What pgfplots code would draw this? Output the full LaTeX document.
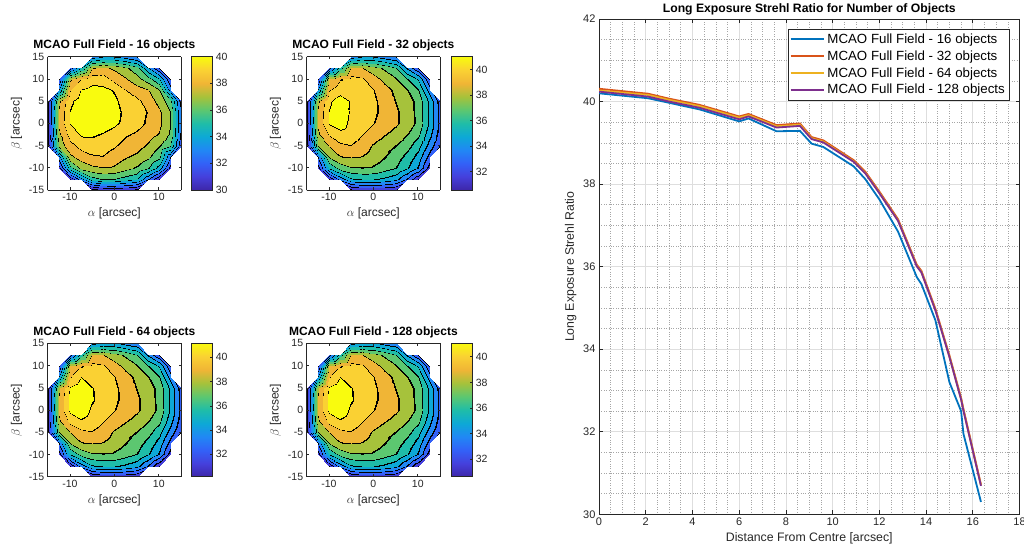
\documentclass[border=0pt]{standalone}
\usepackage{fontspec}
\setmainfont{Liberation Sans}
\usepackage{pgfplots}
\usepackage{pgfplotstable}
\pgfplotsset{compat=1.18}

\definecolor{axc}{rgb}{0.15,0.15,0.15}
\definecolor{mblue}{rgb}{0,0.447,0.741}
\definecolor{morange}{rgb}{0.850,0.325,0.098}
\definecolor{myellow}{rgb}{0.929,0.694,0.125}
\definecolor{mpurple}{rgb}{0.494,0.184,0.556}

% continuous map for the colour bars
\pgfplotsset{colormap={parula}{rgb=(0.242,0.150,0.660) rgb=(0.270,0.250,0.860) rgb=(0.200,0.380,0.970)
  rgb=(0.130,0.530,0.960) rgb=(0.050,0.660,0.840) rgb=(0.120,0.740,0.660) rgb=(0.360,0.780,0.440)
  rgb=(0.650,0.760,0.230) rgb=(0.940,0.710,0.210) rgb=(0.980,0.820,0.200) rgb=(0.976,0.983,0.054)}}
% banded map with thin black bands at each contour level
\pgfplotsset{colormap={bands}{
  rgb(30pt)=(0.242,0.150,0.660) rgb(30.7pt)=(0,0,0)
  rgb(31pt)=(0.270,0.250,0.860) rgb(31.73pt)=(0,0,0)
  rgb(32pt)=(0.200,0.380,0.970) rgb(32.75pt)=(0,0,0)
  rgb(33pt)=(0.130,0.530,0.960) rgb(33.78pt)=(0,0,0)
  rgb(34pt)=(0.050,0.660,0.840) rgb(34.82pt)=(0,0,0)
  rgb(35pt)=(0.120,0.740,0.660) rgb(35.86pt)=(0,0,0)
  rgb(36pt)=(0.360,0.780,0.440) rgb(36.89pt)=(0,0,0)
  rgb(37pt)=(0.650,0.760,0.230) rgb(37.91pt)=(0,0,0)
  rgb(38pt)=(0.940,0.710,0.210) rgb(38.93pt)=(0,0,0)
  rgb(39pt)=(0.980,0.820,0.200) rgb(39.93pt)=(0,0,0)
  rgb(40pt)=(0.976,0.983,0.054) rgb(41pt)=(0.976,0.983,0.054)}}

\pgfplotstableread[row sep=\\]{
x y z\\
-15 15 nan\\ -12.5 15 nan\\ -10 15 nan\\ -7.5 12.5 35.0\\ -5 15 33.5\\ -2.5 15 34.0\\ 0 15 34.0\\ 2.5 15 33.6\\ 5 15 33.0\\ 7.5 12.5 34.0\\ 10 15 nan\\ 12.5 15 nan\\ 15 15 nan\\
-15 12.5 nan\\ -12.5 10 32.0\\ -10 12.5 32.5\\ -7.5 12.5 35.0\\ -5 12.5 37.9\\ -2.5 12.5 38.2\\ 0 12.5 37.8\\ 2.5 12.5 37.2\\ 5 12.5 36.3\\ 7.5 12.5 34.0\\ 10 12.5 32.0\\ 12.5 10 32.0\\ 15 12.5 nan\\
-15 10 nan\\ -12.5 10 32.0\\ -10 10 37.8\\ -7.5 10 39.0\\ -5 10 39.6\\ -2.5 10 39.5\\ 0 10 38.6\\ 2.5 10 38.1\\ 5 10 37.3\\ 7.5 10 36.4\\ 10 10 35.0\\ 12.5 10 32.0\\ 15 10 nan\\
-15 5 31.0\\ -12.5 7.5 34.0\\ -10 7.5 38.9\\ -7.5 7.5 40.0\\ -5 7.5 40.3\\ -2.5 7.5 40.2\\ 0 7.5 39.9\\ 2.5 7.5 39.0\\ 5 7.5 38.4\\ 7.5 7.5 38.0\\ 10 7.5 37.0\\ 12.5 7.5 33.5\\ 15 5 32.5\\
-15 5 31.0\\ -12.5 5 37.8\\ -10 5 39.8\\ -7.5 5 40.4\\ -5 5 40.6\\ -2.5 5 40.5\\ 0 5 40.15\\ 2.5 5 39.6\\ 5 5 39.2\\ 7.5 5 38.5\\ 10 5 37.6\\ 12.5 5 36.3\\ 15 5 32.5\\
-15 2.5 30.8\\ -12.5 2.5 38.1\\ -10 2.5 40.0\\ -7.5 2.5 40.5\\ -5 2.5 40.7\\ -2.5 2.5 40.6\\ 0 2.5 40.3\\ 2.5 2.5 39.75\\ 5 2.5 39.35\\ 7.5 2.5 38.9\\ 10 2.5 38.15\\ 12.5 2.5 37.0\\ 15 2.5 32.8\\
-15 0 30.8\\ -12.5 0 38.2\\ -10 0 40.0\\ -7.5 0 40.5\\ -5 0 40.6\\ -2.5 0 40.45\\ 0 0 40.15\\ 2.5 0 39.7\\ 5 0 39.3\\ 7.5 0 38.8\\ 10 0 38.2\\ 12.5 0 37.0\\ 15 0 32.8\\
-15 -2.5 30.8\\ -12.5 -2.5 37.8\\ -10 -2.5 39.4\\ -7.5 -2.5 40.1\\ -5 -2.5 40.1\\ -2.5 -2.5 39.9\\ 0 -2.5 39.6\\ 2.5 -2.5 39.1\\ 5 -2.5 38.8\\ 7.5 -2.5 38.4\\ 10 -2.5 37.9\\ 12.5 -2.5 36.8\\ 15 -2.5 32.6\\
-15 -5 31.0\\ -12.5 -5 37.3\\ -10 -5 38.6\\ -7.5 -5 39.3\\ -5 -5 39.5\\ -2.5 -5 39.4\\ 0 -5 39.05\\ 2.5 -5 38.6\\ 5 -5 38.3\\ 7.5 -5 37.8\\ 10 -5 37.0\\ 12.5 -5 36.0\\ 15 -5 32.0\\
-15 -5 31.0\\ -12.5 -7.5 33.5\\ -10 -7.5 37.7\\ -7.5 -7.5 38.4\\ -5 -7.5 38.8\\ -2.5 -7.5 38.9\\ 0 -7.5 38.5\\ 2.5 -7.5 38.05\\ 5 -7.5 37.7\\ 7.5 -7.5 37.1\\ 10 -7.5 36.2\\ 12.5 -7.5 33.0\\ 15 -5 32.0\\
-15 -10 nan\\ -12.5 -10 31.5\\ -10 -10 35.5\\ -7.5 -10 37.2\\ -5 -10 37.7\\ -2.5 -10 37.9\\ 0 -10 37.8\\ 2.5 -10 37.3\\ 5 -10 36.8\\ 7.5 -10 36.0\\ 10 -10 34.5\\ 12.5 -10 31.5\\ 15 -10 nan\\
-15 -12.5 nan\\ -12.5 -10 31.5\\ -10 -12.5 31.0\\ -7.5 -12.5 33.5\\ -5 -12.5 35.5\\ -2.5 -12.5 36.0\\ 0 -12.5 35.9\\ 2.5 -12.5 35.5\\ 5 -12.5 35.0\\ 7.5 -12.5 33.0\\ 10 -12.5 31.0\\ 12.5 -10 31.5\\ 15 -12.5 nan\\
-15 -15 nan\\ -12.5 -15 nan\\ -10 -15 nan\\ -7.5 -12.5 33.5\\ -5 -15 30.3\\ -2.5 -15 30.8\\ 0 -15 31.0\\ 2.5 -15 30.8\\ 5 -15 30.5\\ 7.5 -12.5 33.0\\ 10 -15 nan\\ 12.5 -15 nan\\ 15 -15 nan\\
}\tsixteen

\pgfplotstableread[row sep=\\]{
x y z\\
-15 15 nan\\ -12.5 15 nan\\ -10 15 nan\\ -7.5 12.5 35.5\\ -5 15 33.5\\ -2.5 15 34.0\\ 0 15 34.0\\ 2.5 15 33.5\\ 5 15 33.0\\ 7.5 12.5 33.8\\ 10 15 nan\\ 12.5 15 nan\\ 15 15 nan\\
-15 12.5 nan\\ -12.5 10 32.0\\ -10 12.5 32.5\\ -7.5 12.5 35.5\\ -5 12.5 38.1\\ -2.5 12.5 38.0\\ 0 12.5 37.4\\ 2.5 12.5 36.8\\ 5 12.5 36.0\\ 7.5 12.5 33.8\\ 10 12.5 32.0\\ 12.5 10 32.0\\ 15 12.5 nan\\
-15 10 nan\\ -12.5 10 32.0\\ -10 10 38.0\\ -7.5 10 38.9\\ -5 10 39.3\\ -2.5 10 39.1\\ 0 10 38.4\\ 2.5 10 37.7\\ 5 10 37.0\\ 7.5 10 36.0\\ 10 10 34.8\\ 12.5 10 32.0\\ 15 10 nan\\
-15 5 31.0\\ -12.5 7.5 34.0\\ -10 7.5 38.9\\ -7.5 7.5 39.5\\ -5 7.5 39.5\\ -2.5 7.5 39.4\\ 0 7.5 39.0\\ 2.5 7.5 38.35\\ 5 7.5 37.7\\ 7.5 7.5 37.0\\ 10 7.5 36.0\\ 12.5 7.5 33.5\\ 15 5 32.3\\
-15 5 31.0\\ -12.5 5 37.8\\ -10 5 39.8\\ -7.5 5 40.5\\ -5 5 39.85\\ -2.5 5 39.6\\ 0 5 39.15\\ 2.5 5 38.6\\ 5 5 37.9\\ 7.5 5 37.4\\ 10 5 36.6\\ 12.5 5 34.7\\ 15 5 32.3\\
-15 2.5 30.8\\ -12.5 2.5 38.1\\ -10 2.5 40.0\\ -7.5 2.5 40.6\\ -5 2.5 39.8\\ -2.5 2.5 39.6\\ 0 2.5 39.15\\ 2.5 2.5 38.7\\ 5 2.5 38.1\\ 7.5 2.5 37.5\\ 10 2.5 36.6\\ 12.5 2.5 34.7\\ 15 2.5 32.5\\
-15 0 30.8\\ -12.5 0 38.2\\ -10 0 40.05\\ -7.5 0 40.4\\ -5 0 39.7\\ -2.5 0 39.5\\ 0 0 39.0\\ 2.5 0 38.55\\ 5 0 38.1\\ 7.5 0 37.5\\ 10 0 36.7\\ 12.5 0 34.8\\ 15 0 32.5\\
-15 -2.5 30.8\\ -12.5 -2.5 37.8\\ -10 -2.5 39.1\\ -7.5 -2.5 39.7\\ -5 -2.5 39.5\\ -2.5 -2.5 39.0\\ 0 -2.5 38.5\\ 2.5 -2.5 38.05\\ 5 -2.5 37.6\\ 7.5 -2.5 37.0\\ 10 -2.5 36.2\\ 12.5 -2.5 34.3\\ 15 -2.5 32.3\\
-15 -5 31.0\\ -12.5 -5 37.0\\ -10 -5 38.0\\ -7.5 -5 38.7\\ -5 -5 38.9\\ -2.5 -5 38.5\\ 0 -5 37.85\\ 2.5 -5 37.4\\ 5 -5 36.9\\ 7.5 -5 36.3\\ 10 -5 35.3\\ 12.5 -5 33.5\\ 15 -5 31.8\\
-15 -5 31.0\\ -12.5 -7.5 33.0\\ -10 -7.5 37.0\\ -7.5 -7.5 37.9\\ -5 -7.5 38.0\\ -2.5 -7.5 37.9\\ 0 -7.5 37.5\\ 2.5 -7.5 37.0\\ 5 -7.5 36.4\\ 7.5 -7.5 35.6\\ 10 -7.5 34.5\\ 12.5 -7.5 32.5\\ 15 -5 31.8\\
-15 -10 nan\\ -12.5 -10 31.5\\ -10 -10 35.0\\ -7.5 -10 36.3\\ -5 -10 36.8\\ -2.5 -10 36.9\\ 0 -10 36.8\\ 2.5 -10 36.4\\ 5 -10 35.9\\ 7.5 -10 35.0\\ 10 -10 33.8\\ 12.5 -10 31.5\\ 15 -10 nan\\
-15 -12.5 nan\\ -12.5 -10 31.5\\ -10 -12.5 31.0\\ -7.5 -12.5 33.3\\ -5 -12.5 34.8\\ -2.5 -12.5 35.0\\ 0 -12.5 35.0\\ 2.5 -12.5 34.7\\ 5 -12.5 34.2\\ 7.5 -12.5 32.8\\ 10 -12.5 31.0\\ 12.5 -10 31.5\\ 15 -12.5 nan\\
-15 -15 nan\\ -12.5 -15 nan\\ -10 -15 nan\\ -7.5 -12.5 33.3\\ -5 -15 30.6\\ -2.5 -15 31.0\\ 0 -15 31.0\\ 2.5 -15 31.0\\ 5 -15 30.7\\ 7.5 -12.5 32.8\\ 10 -15 nan\\ 12.5 -15 nan\\ 15 -15 nan\\
}\tthirtytwo

\pgfplotstableread[row sep=\\]{
x y z\\
-15 15 nan\\ -12.5 15 nan\\ -10 15 nan\\ -7.5 12.5 35.5\\ -5 15 33.5\\ -2.5 15 34.0\\ 0 15 34.0\\ 2.5 15 33.5\\ 5 15 33.0\\ 7.5 12.5 33.8\\ 10 15 nan\\ 12.5 15 nan\\ 15 15 nan\\
-15 12.5 nan\\ -12.5 10 32.0\\ -10 12.5 32.5\\ -7.5 12.5 35.5\\ -5 12.5 38.1\\ -2.5 12.5 38.0\\ 0 12.5 37.4\\ 2.5 12.5 36.8\\ 5 12.5 36.0\\ 7.5 12.5 33.8\\ 10 12.5 32.0\\ 12.5 10 32.0\\ 15 12.5 nan\\
-15 10 nan\\ -12.5 10 32.0\\ -10 10 38.0\\ -7.5 10 38.9\\ -5 10 39.3\\ -2.5 10 39.1\\ 0 10 38.4\\ 2.5 10 37.7\\ 5 10 37.0\\ 7.5 10 36.0\\ 10 10 34.8\\ 12.5 10 32.0\\ 15 10 nan\\
-15 5 31.0\\ -12.5 7.5 34.0\\ -10 7.5 38.9\\ -7.5 7.5 39.95\\ -5 7.5 39.6\\ -2.5 7.5 39.4\\ 0 7.5 39.0\\ 2.5 7.5 38.35\\ 5 7.5 37.7\\ 7.5 7.5 37.0\\ 10 7.5 36.0\\ 12.5 7.5 33.5\\ 15 5 32.3\\
-15 5 31.0\\ -12.5 5 37.8\\ -10 5 40.1\\ -7.5 5 40.6\\ -5 5 40.0\\ -2.5 5 39.6\\ 0 5 39.15\\ 2.5 5 38.6\\ 5 5 37.9\\ 7.5 5 37.4\\ 10 5 36.6\\ 12.5 5 34.7\\ 15 5 32.3\\
-15 2.5 30.8\\ -12.5 2.5 38.1\\ -10 2.5 40.3\\ -7.5 2.5 40.7\\ -5 2.5 40.05\\ -2.5 2.5 39.6\\ 0 2.5 39.15\\ 2.5 2.5 38.7\\ 5 2.5 38.1\\ 7.5 2.5 37.5\\ 10 2.5 36.6\\ 12.5 2.5 34.7\\ 15 2.5 32.5\\
-15 0 30.8\\ -12.5 0 38.2\\ -10 0 40.2\\ -7.5 0 40.5\\ -5 0 39.8\\ -2.5 0 39.5\\ 0 0 39.0\\ 2.5 0 38.55\\ 5 0 38.1\\ 7.5 0 37.5\\ 10 0 36.7\\ 12.5 0 34.8\\ 15 0 32.5\\
-15 -2.5 30.8\\ -12.5 -2.5 37.8\\ -10 -2.5 39.3\\ -7.5 -2.5 39.85\\ -5 -2.5 39.5\\ -2.5 -2.5 39.0\\ 0 -2.5 38.5\\ 2.5 -2.5 38.05\\ 5 -2.5 37.6\\ 7.5 -2.5 37.0\\ 10 -2.5 36.2\\ 12.5 -2.5 34.3\\ 15 -2.5 32.3\\
-15 -5 31.0\\ -12.5 -5 37.0\\ -10 -5 38.0\\ -7.5 -5 38.7\\ -5 -5 38.9\\ -2.5 -5 38.5\\ 0 -5 37.85\\ 2.5 -5 37.4\\ 5 -5 36.9\\ 7.5 -5 36.3\\ 10 -5 35.3\\ 12.5 -5 33.5\\ 15 -5 31.8\\
-15 -5 31.0\\ -12.5 -7.5 33.0\\ -10 -7.5 37.0\\ -7.5 -7.5 37.9\\ -5 -7.5 38.0\\ -2.5 -7.5 37.9\\ 0 -7.5 37.5\\ 2.5 -7.5 37.0\\ 5 -7.5 36.4\\ 7.5 -7.5 35.6\\ 10 -7.5 34.5\\ 12.5 -7.5 32.5\\ 15 -5 31.8\\
-15 -10 nan\\ -12.5 -10 31.5\\ -10 -10 35.0\\ -7.5 -10 36.3\\ -5 -10 36.8\\ -2.5 -10 36.9\\ 0 -10 36.8\\ 2.5 -10 36.4\\ 5 -10 35.9\\ 7.5 -10 35.0\\ 10 -10 33.8\\ 12.5 -10 31.5\\ 15 -10 nan\\
-15 -12.5 nan\\ -12.5 -10 31.5\\ -10 -12.5 31.0\\ -7.5 -12.5 33.3\\ -5 -12.5 34.8\\ -2.5 -12.5 35.0\\ 0 -12.5 35.0\\ 2.5 -12.5 34.7\\ 5 -12.5 34.2\\ 7.5 -12.5 32.8\\ 10 -12.5 31.0\\ 12.5 -10 31.5\\ 15 -12.5 nan\\
-15 -15 nan\\ -12.5 -15 nan\\ -10 -15 nan\\ -7.5 -12.5 33.3\\ -5 -15 30.6\\ -2.5 -15 31.0\\ 0 -15 31.0\\ 2.5 -15 31.0\\ 5 -15 30.7\\ 7.5 -12.5 32.8\\ 10 -15 nan\\ 12.5 -15 nan\\ 15 -15 nan\\
}\tsixtyfour

\pgfplotsset{
  mapax/.style={
    scale only axis, width=133.3pt, height=133.3pt,
    view={0}{90},
    xmin=-15, xmax=15, ymin=-15, ymax=15, zmin=25, zmax=45,
    xtick={-10,0,10}, ytick={-15,-10,...,15}, ztick=\empty,
    colormap name=bands, colormap access=piecewise constant,
    point meta min=30, point meta max=41,
    unbounded coords=jump,
    xlabel={$\alpha$ [arcsec]}, ylabel={$\beta$ [arcsec]},
    title style={font=\bfseries\fontsize{12}{14}\selectfont, yshift=-4pt},
    tick label style={font=\fontsize{10.5}{12}\selectfont, text=axc},
    label style={font=\fontsize{12}{14}\selectfont, text=axc},
    axis line style={axc, line width=0.6pt},
    tick style={axc, line width=0.6pt}, major tick length=2.5pt,
    /pgf/number format/assume math mode=true,
    axis on top,
  },
  cbax/.style={
    scale only axis, width=21.3pt, height=133.3pt,
    xmin=0, xmax=1, xtick=\empty,
    ytick={30,32,...,40}, ytick pos=right, yticklabel pos=right,
    colormap name=parula,
    tick label style={font=\fontsize{10.5}{12}\selectfont, text=axc},
    axis line style={axc, line width=0.6pt},
    tick style={axc, line width=0.6pt}, major tick length=2pt,
    /pgf/number format/assume math mode=true,
    axis on top,
  },
}

\begin{document}
\begin{tikzpicture}
\path[use as bounding box] (0pt,0pt) rectangle (1024pt,552pt);

% ---- 16 objects
\begin{axis}[mapax, at={(47.7pt,362pt)}, anchor=south west, title={MCAO Full Field - 16 objects}]
\addplot3[surf, shader=interp, mesh/cols=13, point meta=z] table {\tsixteen};
\end{axis}
\begin{axis}[cbax, at={(191pt,362pt)}, anchor=south west, ymin=30, ymax=40, point meta min=30, point meta max=40]
\addplot[surf, shader=interp, mesh/cols=2, point meta=y] coordinates {(0,30) (1,30) (0,40) (1,40)};
\end{axis}

% ---- 32 objects
\begin{axis}[mapax, at={(306.7pt,362pt)}, anchor=south west, title={MCAO Full Field - 32 objects}]
\addplot3[surf, shader=interp, mesh/cols=13, point meta=z] table {\tthirtytwo};
\end{axis}
\begin{axis}[cbax, at={(451pt,362pt)}, anchor=south west, ymin=30.57, ymax=41, point meta min=30.57, point meta max=41, ytick={32,34,...,40}]
\addplot[surf, shader=interp, mesh/cols=2, point meta=y] coordinates {(0,30.57) (1,30.57) (0,41) (1,41)};
\end{axis}

% ---- 64 objects
\begin{axis}[mapax, at={(47.7pt,75.3pt)}, anchor=south west, title={MCAO Full Field - 64 objects}]
\addplot3[surf, shader=interp, mesh/cols=13, point meta=z] table {\tsixtyfour};
\end{axis}
\begin{axis}[cbax, at={(191pt,75.3pt)}, anchor=south west, ymin=30.15, ymax=41.15, point meta min=30.15, point meta max=41.15, ytick={32,34,...,40}]
\addplot[surf, shader=interp, mesh/cols=2, point meta=y] coordinates {(0,30.15) (1,30.15) (0,41.15) (1,41.15)};
\end{axis}

% ---- 128 objects
\begin{axis}[mapax, at={(306.7pt,75.3pt)}, anchor=south west, title={MCAO Full Field - 128 objects}]
\addplot3[surf, shader=interp, mesh/cols=13, point meta=z] table {\tsixtyfour};
\end{axis}
\begin{axis}[cbax, at={(451pt,75.3pt)}, anchor=south west, ymin=30.65, ymax=41.04, point meta min=30.65, point meta max=41.04, ytick={32,34,...,40}]
\addplot[surf, shader=interp, mesh/cols=2, point meta=y] coordinates {(0,30.65) (1,30.65) (0,41.04) (1,41.04)};
\end{axis}

% ---- radial profile
\begin{axis}[
  at={(599pt,37.7pt)}, anchor=south west, scale only axis,
  width=420.5pt, height=495.3pt,
  xmin=0, xmax=18, ymin=30, ymax=42,
  xtick={0,2,...,18}, ytick={30,32,...,42},
  minor x tick num=3, minor y tick num=3,
  grid=both,
  major grid style={black!13, line width=0.6pt},
  minor grid style={black!35, dotted, line width=0.6pt},
  minor tick length=0pt, major tick length=4pt,
  axis line style={axc, line width=0.6pt},
  tick style={axc, line width=0.6pt},
  title={Long Exposure Strehl Ratio for Number of Objects},
  xlabel={Distance From Centre [arcsec]},
  ylabel={Long Exposure Strehl Ratio},
  title style={font=\bfseries\fontsize{12.2}{14}\selectfont, yshift=-6pt},
  tick label style={font=\fontsize{11}{13}\selectfont, text=axc},
  label style={font=\fontsize{12.3}{14}\selectfont, text=axc},
  /pgf/number format/assume math mode=true,
  legend cell align=left,
  legend style={at={(0.976,0.98)}, anchor=north east, draw=axc,
    font=\fontsize{13.3}{15}\selectfont, inner sep=1.5pt, row sep=0pt,
    nodes={inner sep=2.9pt}},
  legend image code/.code={\draw[#1, line width=1.8pt] (0pt,0pt) -- (33pt,0pt);},
]
\addplot[mblue, line width=1.8pt] coordinates {
(0,40.20) (2.1,40.08) (3.0,39.97) (4.3,39.81) (6.0,39.52) (6.4,39.59) (7.6,39.28)
(8.6,39.29) (9.1,38.98) (9.6,38.90) (10.9,38.43) (11.4,38.12) (12.0,37.63) (12.8,36.85)
(13.6,35.75) (13.8,35.58) (14.4,34.70) (15.0,33.20) (15.5,32.50) (15.6,31.95) (16.35,30.30)};
\addlegendentry{MCAO Full Field - 16 objects}
\addplot[morange, line width=1.8pt] coordinates {
(0,40.31) (2.1,40.19) (3.0,40.07) (4.3,39.92) (6.0,39.64) (6.4,39.70) (7.6,39.43)
(8.6,39.47) (9.1,39.14) (9.6,39.06) (10.9,38.58) (11.4,38.30) (12.0,37.82) (12.8,37.15)
(13.6,36.05) (13.8,35.90) (14.4,34.98) (15.0,33.85) (15.5,32.82) (15.6,32.55) (16.35,30.72)};
\addlegendentry{MCAO Full Field - 32 objects}
\addplot[myellow, line width=1.8pt] coordinates {
(0,40.27) (2.1,40.16) (3.0,40.04) (4.3,39.89) (6.0,39.61) (6.4,39.67) (7.6,39.40)
(8.6,39.44) (9.1,39.11) (9.6,39.03) (10.9,38.55) (11.4,38.27) (12.0,37.79) (12.8,37.12)
(13.6,36.02) (13.8,35.87) (14.4,34.95) (15.0,33.82) (15.5,32.79) (15.6,32.52) (16.35,30.70)};
\addlegendentry{MCAO Full Field - 64 objects}
\addplot[mpurple, line width=1.8pt] coordinates {
(0,40.24) (2.1,40.12) (3.0,40.00) (4.3,39.85) (6.0,39.57) (6.4,39.64) (7.6,39.37)
(8.6,39.41) (9.1,39.09) (9.6,39.01) (10.9,38.54) (11.4,38.26) (12.0,37.78) (12.8,37.11)
(13.6,36.01) (13.8,35.86) (14.4,34.94) (15.0,33.81) (15.5,32.78) (15.6,32.51) (16.35,30.69)};
\addlegendentry{MCAO Full Field - 128 objects}
\end{axis}
\end{tikzpicture}
\end{document}
